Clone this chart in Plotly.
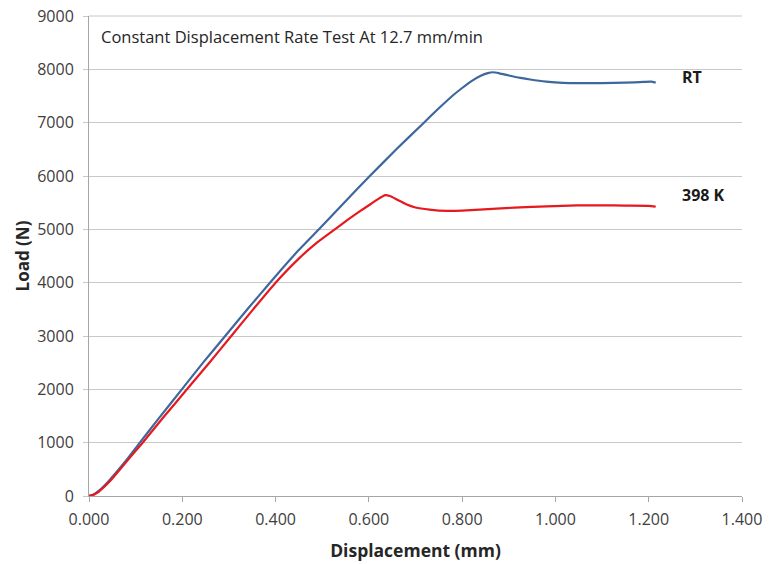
import plotly.graph_objects as go

# RT curve (blue)
rt_x = [0.000, 0.010, 0.020, 0.030, 0.040, 0.050, 0.060, 0.080, 0.109, 0.150, 0.199, 0.245, 0.292, 0.340, 0.388,
        0.440, 0.493, 0.548, 0.602, 0.660, 0.718, 0.750, 0.780, 0.800, 0.820, 0.840, 0.855, 0.866, 0.880, 0.900,
        0.925, 0.946, 0.980, 1.016, 1.060, 1.100, 1.150, 1.190, 1.205, 1.215]
rt_y = [0, 30, 90, 170, 260, 360, 460, 670, 1000, 1460, 2000, 2505, 3000, 3505, 4000,
        4520, 5000, 5510, 6000, 6510, 7000, 7270, 7510, 7650, 7780, 7880, 7930, 7945, 7925, 7885,
        7840, 7810, 7770, 7745, 7740, 7740, 7750, 7765, 7770, 7750]

# 398 K curve (red)
k_x = [0.000, 0.010, 0.020, 0.030, 0.040, 0.050, 0.060, 0.080, 0.115, 0.160, 0.210, 0.258, 0.305, 0.352, 0.400,
       0.452, 0.490, 0.527, 0.555, 0.581, 0.605, 0.622, 0.635, 0.645, 0.660, 0.680, 0.700, 0.730, 0.767,
       0.800, 0.874, 0.950, 1.046, 1.100, 1.150, 1.200, 1.215]
k_y = [0, 25, 75, 150, 235, 330, 430, 640, 1000, 1480, 2000, 2500, 3000, 3500, 4000,
       4470, 4760, 5000, 5180, 5340, 5480, 5580, 5640, 5625, 5560, 5470, 5410, 5370, 5345,
       5350, 5390, 5420, 5450, 5450, 5445, 5440, 5425]

x_ticks = [0.0, 0.2, 0.4, 0.6, 0.8, 1.0, 1.2, 1.4]
y_ticks = [0, 1000, 2000, 3000, 4000, 5000, 6000, 7000, 8000, 9000]

font_family = "Open Sans, Noto Sans, sans-serif"
text_col = "#404040"
grid_col = "#C8C8C8"

fig = go.Figure()
fig.add_trace(go.Scatter(x=rt_x, y=rt_y, mode="lines", name="RT",
                         line=dict(color="#3E679E", width=2.2, shape="spline", smoothing=0.5)))
fig.add_trace(go.Scatter(x=k_x, y=k_y, mode="lines", name="398 K",
                         line=dict(color="#E5191E", width=2.2, shape="spline", smoothing=0.5)))

fig.add_annotation(x=1.215, y=7860, xref="x", yref="y", text="<b>RT</b>", showarrow=False,
                   xanchor="left", xshift=24, font=dict(family=font_family, size=16, color="#1a1a1a"))
fig.add_annotation(x=1.215, y=5640, xref="x", yref="y", text="<b>398 K</b>", showarrow=False,
                   xanchor="left", xshift=24, font=dict(family=font_family, size=16, color="#1a1a1a"))
fig.add_annotation(x=0.021, y=8620, xref="x", yref="y", text="Constant Displacement Rate Test At 12.7 mm/min",
                   showarrow=False, xanchor="left", font=dict(family=font_family, size=16.5, color="#262626"))

# top gridline (at the upper edge of the plot area), which plotly leaves out at the range edge
fig.add_shape(type="line", xref="paper", yref="paper", x0=0, x1=1, y0=1, y1=1,
              line=dict(color=grid_col, width=1), layer="below")

fig.update_layout(
    width=775, height=564,
    margin=dict(l=89, r=33, t=16, b=68),
    paper_bgcolor="white", plot_bgcolor="white",
    showlegend=False,
    font=dict(family=font_family, size=16, color=text_col),
    xaxis=dict(range=[0, 1.4], tickvals=x_ticks, tickformat=".3f", automargin=False,
               showgrid=False, zeroline=False, showline=True, linecolor="#A6A6A6", linewidth=1,
               ticks="outside", tickcolor="#A6A6A6", ticklen=5, ticklabelstandoff=4,
               title=dict(text="<b>Displacement (mm)</b>", font=dict(size=17.5, color="#262626"), standoff=15)),
    yaxis=dict(range=[0, 9000], tickvals=y_ticks, tickformat="d", automargin=False,
               showgrid=True, gridcolor=grid_col, gridwidth=1, zeroline=False,
               showline=True, linecolor="#A6A6A6", linewidth=1,
               ticks="outside", tickcolor=grid_col, ticklen=5, ticklabelstandoff=6,
               title=dict(text="<b>Load (N)</b>", font=dict(size=17, color="#262626"), standoff=3)),
)

# remove the default 8px page margin so the figure fills the window exactly
fig.write_html("out.html", config={"displayModeBar": False},
               post_script="document.body.style.margin='0';document.body.style.overflow='hidden';")
